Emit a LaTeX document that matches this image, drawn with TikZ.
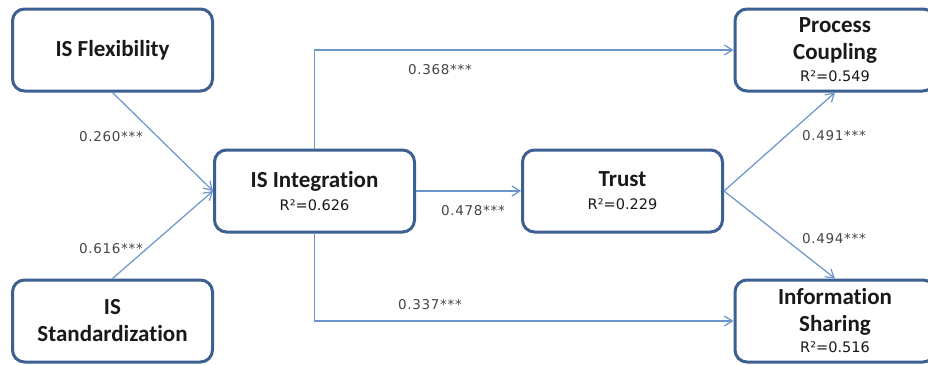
\documentclass[tikz,border=0pt]{standalone}
\usepackage{fontspec}
\usetikzlibrary{arrows.meta}
\newfontfamily\ttlfont{Carlito}[Ligatures={NoCommon}]
\newfontfamily\vfont{DejaVu Sans}
\newfontfamily\lblfontfam{DejaVu Sans}[LetterSpace=5]
\definecolor{boxc}{RGB}{60,96,145}
\definecolor{connc}{RGB}{108,148,203}
\definecolor{lblc}{RGB}{70,70,70}
\newcommand{\ttlf}{\ttlfont\bfseries\fontsize{23}{27}\selectfont}
\newcommand{\rsqf}{\vfont\mdseries\fontsize{14.5}{17}\selectfont}
\newcommand{\lblf}{\lblfontfam\mdseries\fontsize{13.5}{15}\selectfont}
\tikzset{
  box/.style={draw=boxc, line width=3pt, rounded corners=12pt, fill=white,
    minimum width=200pt, minimum height=82pt, align=center, inner sep=0pt,
    font=\ttlf, text=black!90},
  conn/.style={draw=connc, line width=1.2pt, -{Straight Barb[length=8pt,width=10pt]}},
  lbl/.style={font=\lblf, text=lblc, inner sep=0pt, anchor=center}
}
\begin{document}
\begin{tikzpicture}[x=1pt,y=-1pt]
\useasboundingbox (0,0) rectangle (928,364);
\fill[white] (0,0) rectangle (928,364);
\node[box] (flex) at (112.5,50) {IS Flexibility};
\node[box] (std) at (112.5,321) {IS\\Standardization};
\node[box] (integ) at (314.5,191) {IS Integration\\[-4pt]{\rsqf R²=0.626}};
\node[box] (trust) at (622.5,191) {Trust\\[-4pt]{\rsqf R²=0.229}};
\node[box] (pc) at (835,50) {Process\\Coupling\\[-5pt]{\rsqf R²=0.549}};
\node[box] (info) at (835,321) {Information\\Sharing\\[-6pt]{\rsqf R²=0.516}};
\draw[conn] (flex.south) -- (integ.west);
\draw[conn] (std.north) -- (integ.west);
\draw[conn] (integ.north) |- (pc.west);
\draw[conn] (integ.east) -- (trust.west);
\draw[conn] (integ.south) |- (info.west);
\draw[conn] (trust.east) -- (pc.south);
\draw[conn] (trust.east) -- (info.north);
\node[lbl] (l260) at (111,137) {0.260***};
\node[lbl] (l616) at (111,249) {0.616***};
\node[lbl] (l368) at (440,70) {0.368***};
\node[lbl] (l478) at (473,211) {0.478***};
\node[lbl] (l337) at (430,305) {0.337***};
\node[lbl] (l491) at (834,136) {0.491***};
\node[lbl] (l494) at (834,239) {0.494***};
\end{tikzpicture}
\end{document}
